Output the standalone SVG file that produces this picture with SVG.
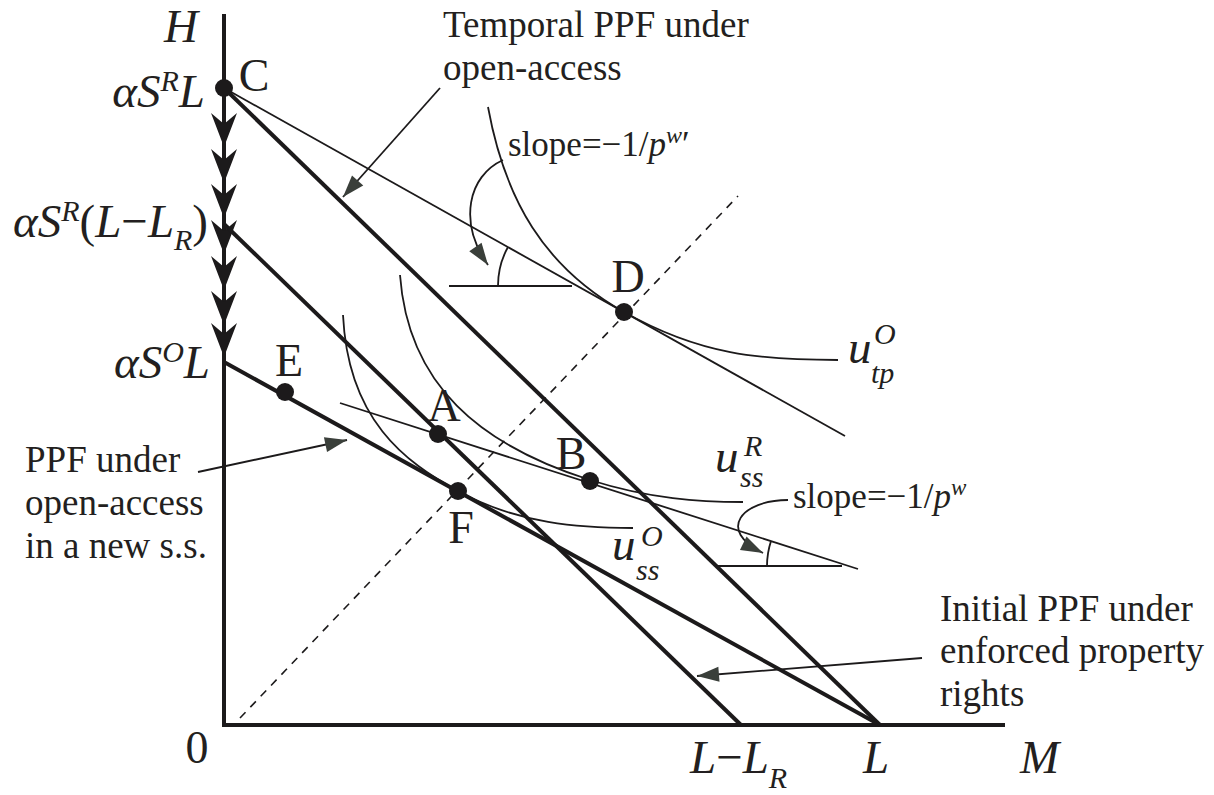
<svg xmlns="http://www.w3.org/2000/svg" xmlns:xlink="http://www.w3.org/1999/xlink" width="1214" height="795" viewBox="0 0 1214 795">
<style>
.ax{stroke:#1c1a1b;stroke-width:4;fill:none}
.thick{stroke:#1c1a1b;stroke-width:4;fill:none}
.thin{stroke:#1c1a1b;stroke-width:1.8;fill:none}
.dash{stroke:#1c1a1b;stroke-width:1.6;fill:none;stroke-dasharray:8 7}
.ptr{stroke:#1c1a1b;stroke-width:1.8;fill:none;marker-end:url(#ah)}
.dot{fill:#1c1a1b}
.lbl{font-family:"Liberation Serif","Times New Roman",serif;font-size:37px;fill:#231f20}
.sl{font-family:"Liberation Serif","Times New Roman",serif;font-size:35px;fill:#231f20}
.m{font-family:"Liberation Serif","Times New Roman",serif;font-style:italic;font-size:47px;fill:#231f20}
.pt{font-family:"Liberation Serif","Times New Roman",serif;font-size:46px;fill:#231f20}
.up{font-style:normal}
.s{font-size:30px}
</style>
<defs>
<marker id="ah" markerUnits="userSpaceOnUse" markerWidth="26" markerHeight="18" viewBox="-23 -9 26 18" refX="0" refY="0" orient="auto">
<path d="M0,0 L-22,-7.5 L-22,7.5 Z" fill="#3a3f3a"/>
</marker>
<path id="chev" d="M0,0 L-13,-34 L0,-23 L13,-34 Z" fill="#1c1a1b"/>
</defs>

<g id="axes">
<path class="ax" d="M224,14 V725 H1005"/>
<use xlink:href="#chev" x="224" y="147"/>
<use xlink:href="#chev" x="224" y="183"/>
<use xlink:href="#chev" x="224" y="218"/>
<use xlink:href="#chev" x="224" y="254"/>
<use xlink:href="#chev" x="224" y="290"/>
<use xlink:href="#chev" x="224" y="325"/>
<use xlink:href="#chev" x="224" y="357"/>
</g>

<g id="frontiers">
<line class="thick" x1="224" y1="88" x2="880" y2="725"/>
<line class="thick" x1="224" y1="224" x2="741" y2="725"/>
<line class="thick" x1="224" y1="362" x2="880" y2="725"/>
<line class="thin" x1="224" y1="88" x2="845" y2="436"/>
<line class="thin" x1="340" y1="403" x2="858" y2="569"/>
<line class="dash" x1="240" y1="718" x2="738" y2="196"/>
</g>

<g id="curves">
<path id="u-tp-O" class="thin" d="M488,107 C505,200 544,267 624,312 C700,355 760,360 838,360"/>
<path id="u-ss-R" class="thin" d="M400,275 C408,385 480,445 590,480 C650,499 700,502 743,502"/>
<path id="u-ss-O" class="thin" d="M343,315 C348,420 405,462 458,491 C518,524 580,528 633,528"/>
</g>

<g id="slope-top">
<line class="thin" x1="449" y1="286" x2="572" y2="286"/>
<path class="thin" d="M498,286 A80,80 0 0 1 508,247"/>
</g>
<g id="slope-bottom">
<line class="thin" x1="718" y1="566" x2="842" y2="566"/>
<path class="thin" d="M767,566 A82,82 0 0 1 771,541"/>
</g>

<g id="connectors">
<path class="ptr" d="M440,88 L343,197"/>
<path class="ptr" d="M503,160 C468,176 458,222 488,265"/>
<path class="ptr" d="M788,500 C742,500 716,530 763,553"/>
<path class="ptr" d="M198,472 L347,440"/>
<path class="ptr" d="M922,658 L697,676"/>
</g>

<g id="points">
<g id="C"><circle class="dot" cx="224" cy="88" r="9"/><text class="pt" x="254" y="91" text-anchor="middle">C</text></g>
<g id="D"><circle class="dot" cx="624" cy="312" r="9"/><text class="pt" x="628" y="292" text-anchor="middle">D</text></g>
<g id="E"><circle class="dot" cx="285" cy="392" r="9"/><text class="pt" x="289" y="376" text-anchor="middle">E</text></g>
<g id="A"><circle class="dot" cx="438" cy="434" r="9"/><text class="pt" x="444" y="421" text-anchor="middle">A</text></g>
<g id="B"><circle class="dot" cx="590" cy="481" r="9"/><text class="pt" x="571" y="469" text-anchor="middle">B</text></g>
<g id="F"><circle class="dot" cx="458" cy="491" r="9"/><text class="pt" x="461" y="543" text-anchor="middle">F</text></g>
</g>

<g id="axis-labels">
<text class="m" x="164" y="42">H</text>
<text class="pt" x="197" y="763" text-anchor="middle" font-size="44">0</text>
<text class="m" x="690" y="773">L<tspan class="up">−</tspan>L<tspan class="s" dy="15">R</tspan></text>
<text class="m" x="876" y="773" text-anchor="middle">L</text>
<text class="m" x="1020" y="773">M</text>
<text class="m" x="205" y="107" text-anchor="end">αS<tspan class="s" dy="-16">R</tspan><tspan dy="16">L</tspan></text>
<text class="m" x="208" y="237" text-anchor="end">αS<tspan class="s" dy="-16">R</tspan><tspan class="up" dy="16">(</tspan>L<tspan class="up">−</tspan>L<tspan class="s" dy="13">R</tspan><tspan class="up" dy="-13">)</tspan></text>
<text class="m" x="210" y="378" text-anchor="end">αS<tspan class="s" dy="-16">O</tspan><tspan dy="16">L</tspan></text>
</g>

<g id="curve-labels">
<text class="m" x="848" y="363">u</text><text class="m s" x="874" y="344">O</text><text class="m s" x="871" y="383">tp</text>
<text class="m" x="715" y="472">u</text><text class="m s" x="744" y="456">R</text><text class="m s" x="740" y="487">ss</text>
<text class="m" x="612" y="560">u</text><text class="m s" x="641" y="546">O</text><text class="m s" x="636" y="580">ss</text>
</g>

<g id="texts">
<text class="lbl" x="443" y="37">Temporal PPF under</text>
<text class="lbl" x="443" y="80">open-access</text>
<text class="sl" x="508" y="156" font-size="36">slope=−1/<tspan font-style="italic">p</tspan><tspan font-style="italic" font-size="24" dy="-13">w</tspan><tspan dy="13">′</tspan></text>
<text class="sl" x="793" y="508" font-size="34">slope=−1/<tspan font-style="italic">p</tspan><tspan font-style="italic" font-size="23" dy="-13">w</tspan></text>
<text class="lbl" x="25" y="472">PPF under</text>
<text class="lbl" x="25" y="515">open-access</text>
<text class="lbl" x="25" y="558">in a new s.s.</text>
<text class="lbl" x="940" y="621">Initial PPF under</text>
<text class="lbl" x="940" y="663">enforced property</text>
<text class="lbl" x="940" y="706">rights</text>
</g>
</svg>
